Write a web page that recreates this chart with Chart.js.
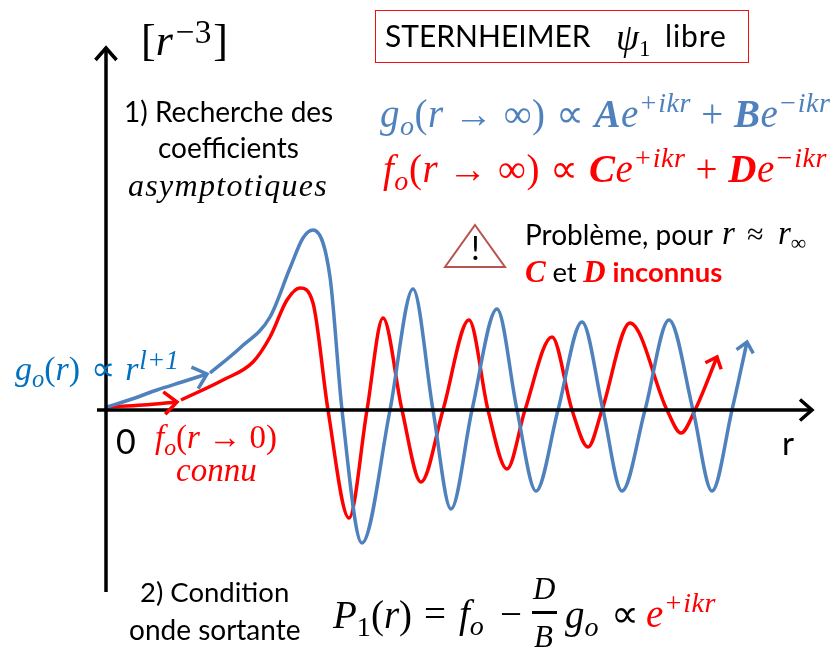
<!DOCTYPE html>
<html><head><meta charset="utf-8">
<script src="https://cdn.jsdelivr.net/npm/chart.js@4"></script>
<style>
html,body{margin:0;padding:0;background:#fff;width:835px;height:648px;overflow:hidden}
#wrap{position:relative;width:835px;height:648px;overflow:hidden}
canvas{position:absolute;left:0;top:0}
.t{position:absolute;white-space:nowrap;line-height:1;font-family:Lato,sans-serif;color:#000}
.m{font-family:"Liberation Serif",serif;font-style:italic}
.n{font-family:"Liberation Serif",serif;font-style:normal}
.bi{font-family:"Liberation Serif",serif;font-weight:bold;font-style:italic}
.t sup,.t sub{font-size:.72em;line-height:0;position:relative;vertical-align:baseline}
.t sup{top:-.55em}.t sub{top:.28em}
.blue{color:#4F81BD}.red{color:#FF0000}.cb{color:#0070C0}
#box{position:absolute;left:375px;top:10px;width:372px;height:51px;border:1px solid #F01010}
#frac{position:absolute;left:532px;top:611px;width:25px;height:3px;background:#000}
svg{position:absolute;left:0;top:0}
</style></head><body><div id="wrap">
<canvas id="c" width="835" height="648"></canvas>
<div id="box"></div>
<svg width="835" height="648"><path d="M475 225 L505 267 L445 267 Z" fill="#fff" stroke="#B85450" stroke-width="2"/></svg>
<div class="t" style="left:471px;top:231px;font-size:33px">!</div>
<div class="t" style="left:141px;top:16px;font-size:44px"><span class="n">[</span><span class="m">r</span><sup class="n" style="font-size:.76em;top:-.36em;margin-left:3px">−3</sup><span class="n" style="margin-left:2px">]</span></div>
<div class="t" style="left:385px;top:20px;font-size:30px">STERNHEIMER</div>
<div class="t" style="left:616px;top:17px;font-size:37px"><span class="m">ψ</span><sub class="n" style="font-size:.62em">1</sub></div>
<div class="t" style="left:665px;top:20px;font-size:30px;letter-spacing:.9px">libre</div>
<div class="t" style="left:124px;top:97px;font-size:28px">1) Recherche des</div>
<div class="t" style="left:158px;top:133px;font-size:28px">coefficients</div>
<div class="t m" style="left:128px;top:169px;font-size:32px;letter-spacing:1.3px">asymptotiques</div>
<div class="t blue" style="left:380px;top:93px;font-size:39px;letter-spacing:.5px"><span class="m">g<sub>o</sub></span><span class="n">(</span><span class="m">r</span><span class="n"> → ∞) ∝ </span><span class="bi">A</span><span class="m">e<sup>+ikr</sup></span><span class="n"> + </span><span class="bi">B</span><span class="m">e<sup>−ikr</sup></span></div>
<div class="t red" style="left:383px;top:148px;font-size:39px;letter-spacing:.5px"><span class="m">f<sub>o</sub></span><span class="n">(</span><span class="m">r</span><span class="n"> → ∞) ∝ </span><span class="bi">C</span><span class="m">e<sup>+ikr</sup></span><span class="n"> + </span><span class="bi">D</span><span class="m">e<sup>−ikr</sup></span></div>
<div class="t" style="left:525px;top:220px;font-size:28px">Problème, pour</div>
<div class="t m" style="left:722px;top:217px;font-size:33px">r</div>
<div class="t n" style="left:747px;top:219px;font-size:30px">≈</div>
<div class="t m" style="left:778px;top:217px;font-size:33px">r<sub class="n" style="font-size:.66em">∞</sub></div>
<div class="t red" style="left:525px;top:256px;font-size:27.5px;font-weight:bold"><span class="bi" style="font-size:31px">C</span> <span style="color:#000;font-weight:normal">et</span> <span class="bi" style="font-size:31px">D</span> inconnus</div>
<div class="t cb" style="left:15px;top:350px;font-size:34px"><span class="m">g<sub>o</sub></span><span class="n">(</span><span class="m">r</span><span class="n">) <span style="margin-left:2px">∝</span> </span><span class="m" style="margin-left:2px">r<sup style="font-size:.8em;top:-.42em;margin-left:1px">l+1</sup></span></div>
<div class="t" style="left:116px;top:424px;font-size:34px">0</div>
<div class="t red" style="left:155px;top:419px;font-size:33px"><span class="m">f<sub>o</sub></span><span class="n">(</span><span class="m">r</span><span class="n"> → 0)</span></div>
<div class="t m red" style="left:176px;top:454px;font-size:33px">connu</div>
<div class="t" style="left:782px;top:426px;font-size:33px">r</div>
<div class="t" style="left:140px;top:578px;font-size:27.5px">2) Condition</div>
<div class="t" style="left:129px;top:615px;font-size:28px">onde sortante</div>
<div class="t" style="left:333px;top:594px;font-size:39px"><span class="m">P<sub class="n">1</sub></span><span class="n">(</span><span class="m">r</span><span class="n">)</span></div>
<div class="t n" style="left:424px;top:594px;font-size:39px">=</div>
<div class="t m" style="left:459px;top:594px;font-size:39px">f<sub>o</sub></div>
<div class="t n" style="left:500px;top:594px;font-size:39px">−</div>
<div class="t m" style="left:533px;top:573px;font-size:31px">D</div>
<div id="frac"></div>
<div class="t m" style="left:534px;top:621px;font-size:31px">B</div>
<div class="t" style="left:565px;top:594px;font-size:39px"><span class="m">g<sub>o</sub></span></div>
<div class="t n" style="left:611px;top:594px;font-size:39px">∝</div>
<div class="t m red" style="left:646px;top:594px;font-size:39px;letter-spacing:.5px">e<sup>+ikr</sup></div>
</div>
<script>
// r axis position (units from the origin) and amplitude
const gNearR=[2,27,52,77,102];
const gNearY=[3,11,20,28,36];
const gFarR=[105,135,165,185,198,208,225,237,257,285,308,328,346,367,392,412,431,453,477,498,517,540,564,588,607,627,642];
const gFarY=[37,62,93,142,172,180,133,0,-133,0,121,0,-99,0,101,0,-81,0,88,0,-81,0,90,0,-81,0,68];
const fNearR=[2,38,72];
const fNearY=[3,5,8];
const fFarR=[76,118,148,165,182,195,208,223,244,262,278,297,316,338,364,383,402,420,447,467,483,497,525,562,576,590,612];
const fFarY=[10,30,48,73,110,122,107,0,-108,0,92,0,-72,0,90,0,-59,0,73,0,-37,0,87,0,-23,0,53];
const rAxisR=[-8,707];
const rAxisY=[0,0];
const yAxisR=[1,1];
const yAxisY=[-182,362];

const zip=(a,b)=>a.map((x,i)=>({x,y:b[i]}));
const ds=(label,r,y,color,width,arrow)=>({label,data:zip(r,y),borderColor:color,borderWidth:width,
  pointRadius:0,cubicInterpolationMode:'monotone',arrow,borderCapStyle:'butt',fill:false,clip:false});

const arrowHeads={id:'arrowHeads',afterDatasetsDraw(chart){
  const c=chart.ctx;
  chart.data.datasets.forEach((d,i)=>{
    if(!d.arrow)return;
    const pts=chart.getDatasetMeta(i).data, n=pts.length;
    const p=pts[n-1], q=pts[n-2];
    const a=Math.atan2(p.y-q.y,p.x-q.x);
    c.save();c.strokeStyle=d.borderColor;c.lineWidth=d.borderWidth;c.lineCap='butt';c.lineJoin='miter';
    c.beginPath();
    c.moveTo(p.x-d.arrow*Math.cos(a-0.72),p.y-d.arrow*Math.sin(a-0.72));
    c.lineTo(p.x,p.y);
    c.lineTo(p.x-d.arrow*Math.cos(a+0.72),p.y-d.arrow*Math.sin(a+0.72));
    c.stroke();c.restore();
  });
}};

new Chart(document.getElementById('c'),{type:'line',
  data:{datasets:[
    ds('r',rAxisR,rAxisY,'#000',3.5,16),
    ds('[r^-3]',yAxisR,yAxisY,'#000',3.5,16),
    ds('g0 far',gFarR,gFarY,'#4F81BD',3.5,13),
    ds('g0 near',gNearR,gNearY,'#4F81BD',3.5,17),
    ds('f0 far',fFarR,fFarY,'#FF0000',3.5,13),
    ds('f0 near',fNearR,fNearY,'#FF0000',3.5,17)
  ]},
  plugins:[arrowHeads],
  options:{responsive:false,animation:false,
    layout:{padding:0},
    plugins:{legend:{display:false},tooltip:{enabled:false},title:{display:false}},
    scales:{
      x:{type:'linear',display:false,min:-105,max:730},
      y:{type:'linear',display:false,min:-238,max:410}
    }}});
</script></body></html>
